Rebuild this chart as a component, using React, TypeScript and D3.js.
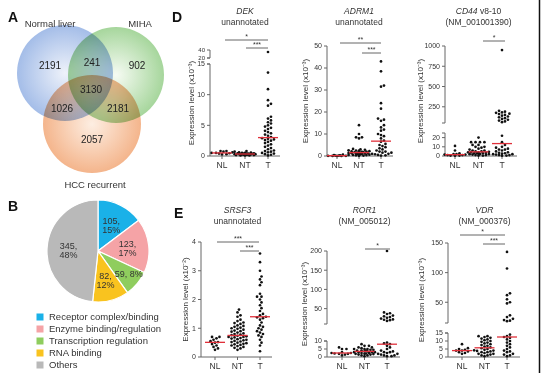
import * as d3 from "d3";

// ---- Venn (A)
const vennSets = ["Normal liver", "MIHA", "HCC recurrent"];
const vennCounts = [2191, 241, 902, 3130, 1026, 2181, 2057];

// ---- Pie (B)
const pieCategories = [
  "Receptor complex/binding",
  "Enzyme binding/regulation",
  "Transcription regulation",
  "RNA binding",
  "Others",
];
const pieValues = [105, 123, 59, 82, 345];
const piePercents = [15, 17, 8, 12, 48];
const pieColors = ["#1ab1e8", "#f5a3a6", "#8fcd5e", "#f9c31f", "#b9b9b9"];

// ---- scatter groups
const groups = ["NL", "NT", "T"];

const dekNL = [0.8, 0.8, 0.7, 0.6, 0.5, 0.5, 0.45, 0.4, 0.3, 0.25];
const dekNT = [0.8, 0.7, 0.6, 0.55, 0.5, 0.5, 0.45, 0.45, 0.4, 0.4, 0.4, 0.35, 0.35, 0.35, 0.3, 0.3, 0.3, 0.3, 0.25, 0.25, 0.2, 0.2, 0.2, 0.15, 0.15, 0.1, 0.1, 0.1];
const dekT = [35, 13.6, 10.9, 9.1, 8.5, 8.2, 6.4, 6.1, 5.8, 5.5, 5.3, 5.0, 4.8, 4.6, 4.4, 4.1, 3.9, 3.7, 3.5, 3.3, 3.1, 2.9, 2.8, 2.7, 2.6, 2.5, 2.3, 2.1, 1.9, 1.7, 1.5, 1.3, 1.1, 0.9, 0.8, 0.7, 0.6, 0.5, 0.4, 0.3, 0.2, 0.1];

const adrmNL = [0.6, 0.4, 0.3, 0.2, 0.2, 0.1, 0.1, 0.05, 0.05, 0];
const adrmNT = [14, 10, 8.5, 8.5, 8, 3.2, 3, 2.8, 2.6, 2.5, 2.4, 2.2, 2.1, 2, 1.9, 1.8, 1.7, 1.6, 1.5, 1.5, 1.4, 1.3, 1.2, 1.1, 1, 1, 0.9, 0.8, 0.7, 0.6, 0.5, 0.5, 0.4, 0.3, 0.2, 0.1];
const adrmT = [43, 38.5, 32, 31.5, 24, 21.5, 17, 16.5, 16, 14, 13, 12, 11.5, 10, 9.5, 9, 8, 7, 6.5, 5.5, 5, 4.5, 4, 3.5, 3, 2.5, 2, 2, 1.5, 1.5, 1, 1, 0.8, 0.5, 0.3, 0.2];

const cd44NL = [11, 6, 3, 2, 2, 1.5, 1.5, 1, 1, 0.5, 0.5, 0.3];
const cd44NT = [20, 15, 15, 15, 15, 12, 12, 10, 10, 9, 8, 7, 6, 6, 5, 5, 4.5, 4, 4, 4, 3.5, 3, 3, 3, 2.5, 2, 2, 2, 1.5, 1, 1, 0.5, 0.5];
const cd44T = [950, 200, 190, 180, 175, 165, 160, 150, 140, 130, 120, 110, 100, 90, 80, 70, 60, 22, 15, 12, 10, 9, 8, 7, 7, 6, 5, 4, 3.5, 3, 2.5, 2, 2, 1.5, 1, 1, 0.5, 0.3];

const srsfNL = [0.7, 0.7, 0.65, 0.6, 0.55, 0.52, 0.5, 0.45, 0.4, 0.35, 0.3, 0.25];
const srsfNT = [1.65, 1.55, 1.45, 1.4, 1.3, 1.25, 1.2, 1.18, 1.15, 1.1, 1.08, 1.05, 1.02, 1.0, 0.98, 0.95, 0.92, 0.9, 0.88, 0.85, 0.82, 0.8, 0.78, 0.76, 0.74, 0.72, 0.7, 0.7, 0.68, 0.66, 0.64, 0.62, 0.6, 0.58, 0.56, 0.54, 0.52, 0.5, 0.48, 0.46, 0.44, 0.42, 0.4, 0.38, 0.35, 0.32, 0.3, 0.25];
const srsfT = [3.6, 3.3, 3.0, 2.8, 2.7, 2.6, 2.5, 2.2, 2.1, 2.1, 2.0, 1.9, 1.8, 1.7, 1.6, 1.5, 1.45, 1.4, 1.38, 1.35, 1.3, 1.2, 1.1, 1.05, 1.0, 0.95, 0.9, 0.85, 0.8, 0.75, 0.7, 0.6, 0.5, 0.4, 0.2];

const rorNL = [6, 5, 5, 3, 2.5, 2.5, 2.2, 2, 2, 1.5, 1];
const rorNT = [8, 7, 7, 6, 6, 5.5, 5, 5, 5, 4.5, 4.5, 4, 4, 4, 3.5, 3.5, 3, 3, 3, 2.8, 2.5, 2.5, 2.2, 2, 2, 1.8, 1.5, 1.5, 1, 1, 0.5];
const rorT = [200, 40, 38, 36, 32, 30, 28, 26, 24, 22, 21, 20, 18, 9, 8.5, 8, 7, 6, 5, 4, 3.5, 3, 3, 2.5, 2, 2, 1.5, 1, 1, 0.5, 0.5];

const vdrNL = [8, 5.5, 5, 4.5, 4, 4, 3.5, 3, 2.5, 2];
const vdrNT = [13, 13, 12.5, 12, 11.5, 11, 10.5, 10, 9.5, 9, 8.5, 8, 7.5, 7, 6.5, 6, 5.5, 5, 4.5, 4.2, 4, 3.8, 3.5, 3, 3, 2.5, 2, 2, 1.5, 1, 1, 0.5];
const vdrT = [135, 107, 65, 62, 55, 50, 48, 28, 25, 22, 20, 19, 18, 14, 13, 12.5, 12, 11, 10, 9, 8, 7, 6, 5, 4, 3.5, 3, 2, 1.5, 1, 0.5];

const FONT = "'Liberation Sans', Arial, sans-serif";
const TXT = "#333";
const AX = "#666";

type Seg = { domain: [number, number]; range: [number, number]; ticks: number[] };

// dodge the dots sideways, but never wider than maxOff: crowded rows overlap
function swarm(values: number[], cx: number, yOf: (v: number) => number, r: number, maxOff: number) {
  const pts = values.map((v) => yOf(v)).sort((a, b) => b - a);
  const placed: { x: number; y: number }[] = [];
  const step = r * 1.1;
  const n = Math.floor(maxOff / step);
  for (const y of pts) {
    let bestOff = 0;
    let bestDist = -1;
    for (let k = 0; k <= 2 * n; k++) {
      const o = k === 0 ? 0 : (k % 2 ? 1 : -1) * Math.ceil(k / 2) * step;
      const d = placed.reduce((m, q) => Math.min(m, Math.hypot(q.x - (cx + o), q.y - y)), Infinity);
      if (d >= 2 * r + 0.3) {
        bestOff = o;
        bestDist = Infinity;
        break;
      }
      if (d > bestDist + 0.5) {
        bestDist = d;
        bestOff = o;
      }
    }
    placed.push({ x: cx + bestOff, y });
  }
  return placed;
}

function DotPlot({
  axisX, catRange, axisEnd, segs, data, title, titleRest, sub, titleY, yLabel, labelX, brackets,
}: {
  axisX: number;
  catRange: [number, number];
  axisEnd: number;
  segs: Seg[];
  data: number[][];
  title: string;
  titleRest?: string;
  sub: string;
  titleY: number;
  yLabel: string;
  labelX: number;
  brackets: { x1: number; x2: number; y: number; stars: string }[];
}) {
  const scales = segs.map((s) => d3.scaleLinear().domain(s.domain).range(s.range));
  const yOf = (v: number) => {
    const i = segs.findIndex((s) => v <= s.domain[1]);
    return scales[i < 0 ? segs.length - 1 : i](v);
  };
  const x = d3.scalePoint<string>().domain(groups).range(catRange);
  const baseY = segs[0].range[0];
  const topY = segs[segs.length - 1].range[1];
  return (
    <g fontFamily={FONT}>
      <text x={(catRange[0] + catRange[1]) / 2} y={titleY} textAnchor="middle" fontSize={8.5} fill={TXT}>
        <tspan fontStyle="italic">{title}</tspan>
        {titleRest}
      </text>
      <text x={(catRange[0] + catRange[1]) / 2} y={titleY + 11} textAnchor="middle" fontSize={8.5} fill={TXT}>
        {sub}
      </text>
      <text
        transform={`translate(${labelX},${(baseY + topY) / 2}) rotate(-90)`}
        textAnchor="middle"
        fontSize={8}
        fill={TXT}
      >
        {yLabel}
      </text>
      {segs.map((s, i) => (
        <g key={i}>
          <line x1={axisX} x2={axisX} y1={s.range[0]} y2={s.range[1]} stroke={AX} strokeWidth={1} />
          {i > 0 && <line x1={axisX - 3} x2={axisX} y1={s.range[0]} y2={s.range[0]} stroke={AX} />}
          {i < segs.length - 1 && <line x1={axisX - 3} x2={axisX} y1={s.range[1]} y2={s.range[1]} stroke={AX} />}
          {s.ticks.map((t) => (
            <g key={t}>
              <line x1={axisX - 3} x2={axisX} y1={scales[i](t)} y2={scales[i](t)} stroke={AX} />
              <text
                x={axisX - 5}
                y={scales[i](t)}
                dy="0.35em"
                textAnchor="end"
                fontSize={s.range[0] - s.range[1] < 12 ? 6 : 7}
                fill={TXT}
              >
                {t}
              </text>
            </g>
          ))}
        </g>
      ))}
      <line x1={axisX} x2={axisEnd} y1={baseY} y2={baseY} stroke={AX} />
      {groups.map((g, gi) => {
        const cx = x(g) ?? 0;
        const pts = swarm(data[gi], cx, yOf, 1.35, 11);
        const med = yOf(d3.median(data[gi]) ?? 0);
        return (
          <g key={g}>
            <line x1={cx} x2={cx} y1={baseY} y2={baseY + 3} stroke={AX} />
            <text x={cx} y={baseY + 12} textAnchor="middle" fontSize={8.5} fill={TXT}>
              {g}
            </text>
            {pts.map((p, i) => (
              <circle key={i} cx={p.x} cy={p.y} r={1.35} fill="#111" />
            ))}
            <line x1={cx - 10} x2={cx + 10} y1={med} y2={med} stroke="#e0303a" strokeWidth={1.3} />
          </g>
        );
      })}
      {brackets.map((b, i) => (
        <g key={i}>
          <line x1={b.x1} x2={b.x2} y1={b.y} y2={b.y} stroke={AX} />
          <text x={(b.x1 + b.x2) / 2} y={b.y - 1.5} textAnchor="middle" fontSize={7} fill={TXT}>
            {b.stars}
          </text>
        </g>
      ))}
    </g>
  );
}

function Venn() {
  const circles = [
    { cx: 65, cy: 73, r: 48, c0: "#eef2fa", c1: "#a4bde8" },
    { cx: 116, cy: 75, r: 48, c0: "#f6fbf3", c1: "#a6d69c" },
    { cx: 92, cy: 124, r: 49, c0: "#fdeee2", c1: "#f4b58c" },
  ];
  const numPos = [
    [50, 65], [92, 62], [137, 65], [91, 89], [62, 108], [118, 108], [92, 139],
  ];
  return (
    <g fontFamily={FONT}>
      <defs>
        {circles.map((c, i) => (
          <radialGradient key={i} id={`vg${i}`} cx="50%" cy="50%" r="50%">
            <stop offset="0%" stopColor={c.c0} />
            <stop offset="100%" stopColor={c.c1} />
          </radialGradient>
        ))}
      </defs>
      {circles.map((c, i) => (
        <circle key={i} cx={c.cx} cy={c.cy} r={c.r} fill={`url(#vg${i})`} style={{ mixBlendMode: "multiply" }} />
      ))}
      {vennCounts.map((n, i) => (
        <text key={i} x={numPos[i][0]} y={numPos[i][1]} dy="0.35em" textAnchor="middle" fontSize={10} fill="#222">
          {n}
        </text>
      ))}
      <text x={50} y={27} textAnchor="middle" fontSize={9.5} fill={TXT}>{vennSets[0]}</text>
      <text x={140} y={27} textAnchor="middle" fontSize={9.5} fill={TXT}>{vennSets[1]}</text>
      <text x={95} y={188} textAnchor="middle" fontSize={9.5} fill={TXT}>{vennSets[2]}</text>
    </g>
  );
}

function Pie() {
  const cx = 98, cy = 251, r = 51;
  const arcs = d3.pie<number>().sort(null)(pieValues);
  const arc = d3.arc<d3.PieArcDatum<number>>().innerRadius(0).outerRadius(r);
  const labelArc = d3.arc<d3.PieArcDatum<number>>().innerRadius(r * 0.58).outerRadius(r * 0.58);
  return (
    <g fontFamily={FONT}>
      <g transform={`translate(${cx},${cy})`}>
        {arcs.map((a, i) => (
          <path key={i} d={arc(a) ?? ""} fill={pieColors[i]} stroke="#fff" strokeWidth={1.2} />
        ))}
        {arcs.map((a, i) => {
          const [lx, ly] = labelArc.centroid(a);
          const oneLine = i === 2;
          return oneLine ? (
            <text key={i} x={lx + 8} y={ly + 4} dy="0.35em" textAnchor="middle" fontSize={9} fill="#333">
              {pieValues[i]}, {piePercents[i]}%
            </text>
          ) : (
            <text key={i} x={lx} y={ly} textAnchor="middle" fontSize={9} fill="#333">
              <tspan x={lx} dy="-0.1em">{pieValues[i]},</tspan>
              <tspan x={lx} dy="1.05em">{piePercents[i]}%</tspan>
            </text>
          );
        })}
      </g>
      {pieCategories.map((c, i) => (
        <g key={c} transform={`translate(40,${317 + i * 12})`}>
          <rect x={-3.5} y={-3.5} width={7} height={7} fill={pieColors[i]} />
          <text x={9} y={0} dy="0.35em" fontSize={9.5} fill={TXT}>{c}</text>
        </g>
      ))}
    </g>
  );
}

export default function App() {
  return (
    <svg width={543} height={373} style={{ position: "absolute", left: 0, top: 0, background: "#fff" }}>
      <rect width={543} height={373} fill="#fff" />
      <g fontFamily={FONT} fontWeight="bold" fontSize={14} fill="#111">
        <text x={8} y={22}>A</text>
        <text x={8} y={211}>B</text>
        <text x={172} y={22}>D</text>
        <text x={174} y={218}>E</text>
      </g>
      <Venn />
      <Pie />
      <DotPlot
        axisX={210} catRange={[222, 268]} axisEnd={280}
        segs={[
          { domain: [0, 15], range: [156, 64], ticks: [0, 5, 10, 15] },
          { domain: [20, 40], range: [58, 50], ticks: [20, 40] },
        ]}
        data={[dekNL, dekNT, dekT]}
        title="DEK" sub="unannotated" titleY={14}
        yLabel="Expression level (x10⁻³)" labelX={194}
        brackets={[
          { x1: 225, x2: 268, y: 40, stars: "*" },
          { x1: 246, x2: 268, y: 48, stars: "***" },
        ]}
      />
      <DotPlot
        axisX={327} catRange={[337, 381]} axisEnd={393}
        segs={[{ domain: [0, 50], range: [156, 46], ticks: [0, 10, 20, 30, 40, 50] }]}
        data={[adrmNL, adrmNT, adrmT]}
        title="ADRM1" sub="unannotated" titleY={14}
        yLabel="Expression level (x10⁻³)" labelX={308}
        brackets={[
          { x1: 340, x2: 381, y: 43, stars: "**" },
          { x1: 362, x2: 381, y: 53, stars: "***" },
        ]}
      />
      <DotPlot
        axisX={445} catRange={[455, 502]} axisEnd={517}
        segs={[
          { domain: [0, 25], range: [156, 133], ticks: [0, 10, 20] },
          { domain: [50, 1000], range: [123, 46], ticks: [250, 500, 750, 1000] },
        ]}
        data={[cd44NL, cd44NT, cd44T]}
        title="CD44" titleRest=" v8-10" sub="(NM_001001390)" titleY={14}
        yLabel="Expression level (x10⁻³)" labelX={423}
        brackets={[{ x1: 483, x2: 505, y: 41, stars: "*" }]}
      />
      <DotPlot
        axisX={201} catRange={[215, 260]} axisEnd={272}
        segs={[{ domain: [0, 4], range: [357, 242], ticks: [0, 1, 2, 3, 4] }]}
        data={[srsfNL, srsfNT, srsfT]}
        title="SRSF3" sub="unannotated" titleY={213}
        yLabel="Expression level (x10⁻²)" labelX={188}
        brackets={[
          { x1: 217, x2: 259, y: 242, stars: "***" },
          { x1: 240, x2: 259, y: 251, stars: "***" },
        ]}
      />
      <DotPlot
        axisX={327} catRange={[342, 387]} axisEnd={400}
        segs={[
          { domain: [0, 10], range: [357, 341], ticks: [0, 5, 10] },
          { domain: [10, 200], range: [324, 251], ticks: [50, 100, 150, 200] },
        ]}
        data={[rorNL, rorNT, rorT]}
        title="ROR1" sub="(NM_005012)" titleY={213}
        yLabel="Expression level (x10⁻³)" labelX={307}
        brackets={[{ x1: 365, x2: 390, y: 249, stars: "*" }]}
      />
      <DotPlot
        axisX={448} catRange={[462, 507]} axisEnd={520}
        segs={[
          { domain: [0, 15], range: [357, 333], ticks: [0, 5, 10, 15] },
          { domain: [15, 150], range: [323, 243], ticks: [50, 100, 150] },
        ]}
        data={[vdrNL, vdrNT, vdrT]}
        title="VDR" sub="(NM_000376)" titleY={213}
        yLabel="Expression level (x10⁻³)" labelX={424}
        brackets={[
          { x1: 460, x2: 505, y: 235, stars: "*" },
          { x1: 483, x2: 505, y: 244, stars: "***" },
        ]}
      />
      <line x1={539.5} x2={539.5} y1={0} y2={373} stroke="#111" strokeWidth={1.5} />
    </svg>
  );
}
